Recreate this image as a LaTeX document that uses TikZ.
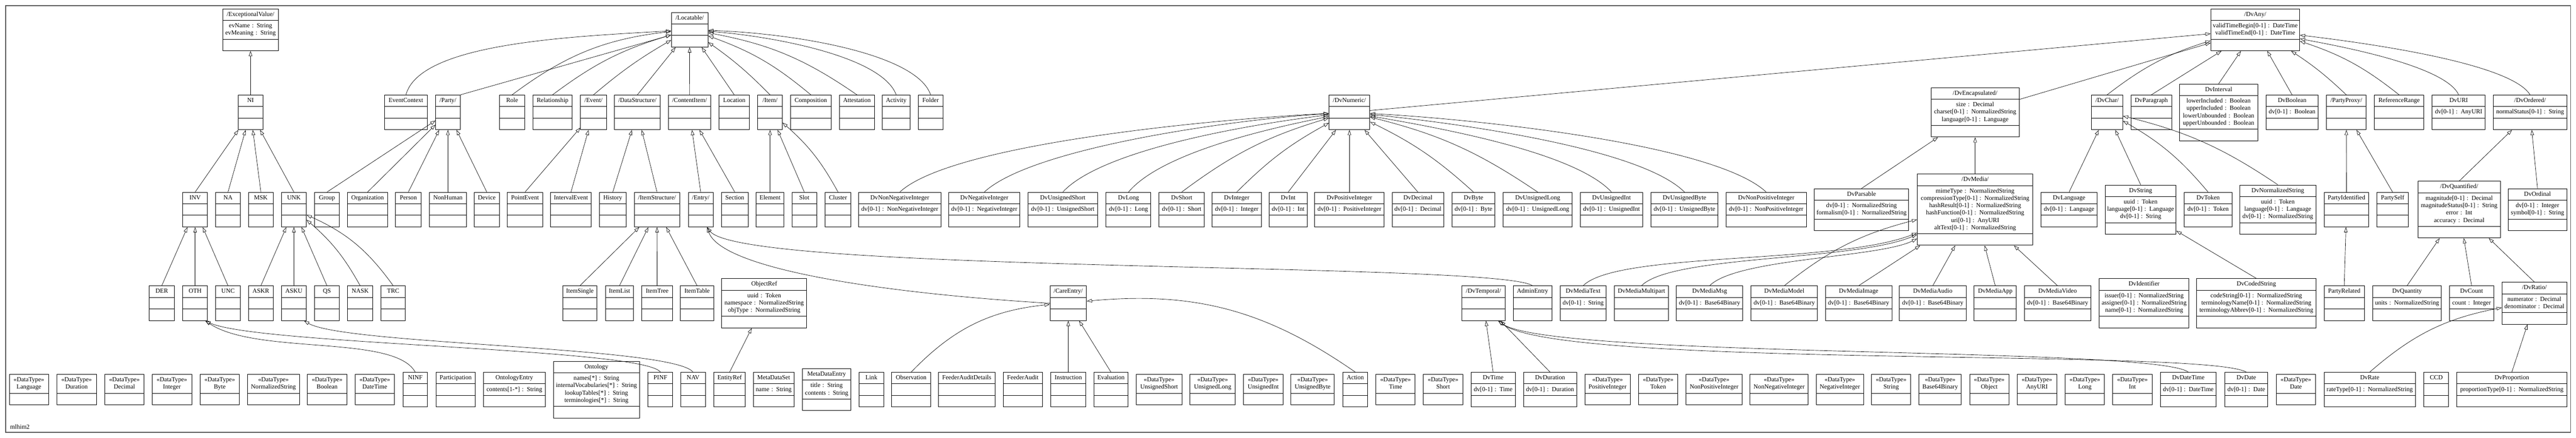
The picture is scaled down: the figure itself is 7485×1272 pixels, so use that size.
\documentclass[tikz,border=0pt]{standalone}
\usepackage{fontspec}
\setmainfont{Liberation Serif}
\usetikzlibrary{shapes.multipart,arrows.meta}
\begin{document}
\begin{tikzpicture}[x=1pt,y=1pt,
    cls/.style={rectangle split,rectangle split parts=3,draw,line width=1.5pt,inner xsep=0pt,inner ysep=5.33pt,align=center,font=\fontsize{18.2}{21.33}\selectfont},
    dtype/.style={cls,rectangle split parts=2},
    bw/.style={text width=#1pt},
    gen/.style={-{Triangle[open,length=15pt,width=10pt]},line width=1pt}]
    \useasboundingbox (0,0) rectangle (7485,1272);
    \draw[black!65,line width=2.5pt] (16,16) rectangle (7469,1256);
    \node[anchor=west,font=\fontsize{18.2}{21.33}\selectfont] (title) at (26,32) {mlhim2};
    \node[cls,bw=162] (exceptionalvalue) at (728,1185.5) {\strut/ExceptionalValue/\nodepart{two}\strut evName : String\\evMeaning : String\strut\nodepart{three}\strut};
    \node[cls,bw=106] (locatable) at (2004,1185.5) {\strut/Locatable/\nodepart{two}\strut\nodepart{three}\strut};
    \node[cls,bw=258] (dvany) at (6553,1185.5) {\strut/DvAny/\nodepart{two}\strut validTimeBegin[0-1] : DateTime\\validTimeEnd[0-1] : DateTime\strut\nodepart{three}\strut};
    \node[cls,bw=72] (ni) at (728,945.5) {\strut NI\nodepart{two}\strut\nodepart{three}\strut};
    \node[cls,bw=123] (eventcontext) at (1179.5,945.5) {\strut EventContext\nodepart{two}\strut\nodepart{three}\strut};
    \node[cls,bw=71] (party) at (1301.5,945.5) {\strut/Party/\nodepart{two}\strut\nodepart{three}\strut};
    \node[cls,bw=72] (role) at (1488,945.5) {\strut Role\nodepart{two}\strut\nodepart{three}\strut};
    \node[cls,bw=115] (relationship) at (1605.5,945.5) {\strut Relationship\nodepart{two}\strut\nodepart{three}\strut};
    \node[cls,bw=75] (event) at (1724.5,945.5) {\strut/Event/\nodepart{two}\strut\nodepart{three}\strut};
    \node[cls,bw=134] (datastructure) at (1852,945.5) {\strut/DataStructure/\nodepart{two}\strut\nodepart{three}\strut};
    \node[cls,bw=123] (contentitem) at (2003.5,945.5) {\strut/ContentItem/\nodepart{two}\strut\nodepart{three}\strut};
    \node[cls,bw=89] (location) at (2133.5,945.5) {\strut Location\nodepart{two}\strut\nodepart{three}\strut};
    \node[cls,bw=71] (item) at (2237.5,945.5) {\strut/Item/\nodepart{two}\strut\nodepart{three}\strut};
    \node[cls,bw=118] (composition) at (2356,945.5) {\strut Composition\nodepart{two}\strut\nodepart{three}\strut};
    \node[cls,bw=102] (attestation) at (2490,945.5) {\strut Attestation\nodepart{two}\strut\nodepart{three}\strut};
    \node[cls,bw=80] (activity) at (2604,945.5) {\strut Activity\nodepart{two}\strut\nodepart{three}\strut};
    \node[cls,bw=72] (folder) at (2704,945.5) {\strut Folder\nodepart{two}\strut\nodepart{three}\strut};
    \node[cls,bw=118] (dvnumeric) at (3921,945.5) {\strut/DvNumeric/\nodepart{two}\strut\nodepart{three}\strut};
    \node[cls,bw=256] (dvencapsulated) at (5739,945.5) {\strut/DvEncapsulated/\nodepart{two}\strut size : Decimal\\charset[0-1] : NormalizedString\\language[0-1] : Language\strut\nodepart{three}\strut};
    \node[cls,bw=91] (dvchar) at (6122.5,945.5) {\strut/DvChar/\nodepart{two}\strut\nodepart{three}\strut};
    \node[cls,bw=118] (dvparagraph) at (6251,945.5) {\strut DvParagraph\nodepart{two}\strut\nodepart{three}\strut};
    \node[cls,bw=227] (dvinterval) at (6446.5,945.5) {\strut DvInterval\nodepart{two}\strut lowerIncluded : Boolean\\upperIncluded : Boolean\\lowerUnbounded : Boolean\\upperUnbounded : Boolean\strut\nodepart{three}\strut};
    \node[cls,bw=152] (dvboolean) at (6660,945.5) {\strut DvBoolean\nodepart{two}\strut dv[0-1] : Boolean\nodepart{three}\strut};
    \node[cls,bw=115] (partyproxy) at (6817.5,945.5) {\strut/PartyProxy/\nodepart{two}\strut\nodepart{three}\strut};
    \node[cls,bw=144] (referencerange) at (6971,945.5) {\strut ReferenceRange\nodepart{two}\strut\nodepart{three}\strut};
    \node[cls,bw=154] (dvuri) at (7144,945.5) {\strut DvURI\nodepart{two}\strut dv[0-1] : AnyURI\nodepart{three}\strut};
    \node[cls,bw=213] (dvordered) at (7351.5,945.5) {\strut/DvOrdered/\nodepart{two}\strut normalStatus[0-1] : String\nodepart{three}\strut};
    \node[cls,bw=72] (inv) at (567,663) {\strut INV\nodepart{two}\strut\nodepart{three}\strut};
    \node[cls,bw=71] (na) at (662.5,663) {\strut NA\nodepart{two}\strut\nodepart{three}\strut};
    \node[cls,bw=72] (msk) at (758,663) {\strut MSK\nodepart{two}\strut\nodepart{three}\strut};
    \node[cls,bw=72] (unk) at (854,663) {\strut UNK\nodepart{two}\strut\nodepart{three}\strut};
    \node[cls,bw=72] (group) at (950,663) {\strut Group\nodepart{two}\strut\nodepart{three}\strut};
    \node[cls,bw=116] (organization) at (1068,663) {\strut Organization\nodepart{two}\strut\nodepart{three}\strut};
    \node[cls,bw=75] (person) at (1186.5,663) {\strut Person\nodepart{two}\strut\nodepart{three}\strut};
    \node[cls,bw=107] (nonhuman) at (1301.5,663) {\strut NonHuman\nodepart{two}\strut\nodepart{three}\strut};
    \node[cls,bw=73] (device) at (1414.5,663) {\strut Device\nodepart{two}\strut\nodepart{three}\strut};
    \node[cls,bw=103] (pointevent) at (1525.5,663) {\strut PointEvent\nodepart{two}\strut\nodepart{three}\strut};
    \node[cls,bw=118] (intervalevent) at (1659,663) {\strut IntervalEvent\nodepart{two}\strut\nodepart{three}\strut};
    \node[cls,bw=77] (history) at (1780.5,663) {\strut History\nodepart{two}\strut\nodepart{three}\strut};
    \node[cls,bw=132] (itemstructure) at (1909,663) {\strut/ItemStructure/\nodepart{two}\strut\nodepart{three}\strut};
    \node[cls,bw=72] (entry) at (2036,663) {\strut/Entry/\nodepart{two}\strut\nodepart{three}\strut};
    \node[cls,bw=78] (section) at (2135,663) {\strut Section\nodepart{two}\strut\nodepart{three}\strut};
    \node[cls,bw=81] (element) at (2237.5,663) {\strut Element\nodepart{two}\strut\nodepart{three}\strut};
    \node[cls,bw=72] (slot) at (2337,663) {\strut Slot\nodepart{two}\strut\nodepart{three}\strut};
    \node[cls,bw=76] (cluster) at (2435,663) {\strut Cluster\nodepart{two}\strut\nodepart{three}\strut};
    \node[cls,bw=239] (dvnonnegativeinteger) at (2614.5,663) {\strut DvNonNegativeInteger\nodepart{two}\strut dv[0-1] : NonNegativeInteger\nodepart{three}\strut};
    \node[cls,bw=206] (dvnegativeinteger) at (2860,663) {\strut DvNegativeInteger\nodepart{two}\strut dv[0-1] : NegativeInteger\nodepart{three}\strut};
    \node[cls,bw=202] (dvunsignedshort) at (3088,663) {\strut DvUnsignedShort\nodepart{two}\strut dv[0-1] : UnsignedShort\nodepart{three}\strut};
    \node[cls,bw=130] (dvlong) at (3279,663) {\strut DvLong\nodepart{two}\strut dv[0-1] : Long\nodepart{three}\strut};
    \node[cls,bw=131] (dvshort) at (3433.5,663) {\strut DvShort\nodepart{two}\strut dv[0-1] : Short\nodepart{three}\strut};
    \node[cls,bw=143] (dvinteger) at (3593.5,663) {\strut DvInteger\nodepart{two}\strut dv[0-1] : Integer\nodepart{three}\strut};
    \node[cls,bw=110] (dvint) at (3743,663) {\strut DvInt\nodepart{two}\strut dv[0-1] : Int\nodepart{three}\strut};
    \node[cls,bw=202] (dvpositiveinteger) at (3921,663) {\strut DvPositiveInteger\nodepart{two}\strut dv[0-1] : PositiveInteger\nodepart{three}\strut};
    \node[cls,bw=150] (dvdecimal) at (4120,663) {\strut DvDecimal\nodepart{two}\strut dv[0-1] : Decimal\nodepart{three}\strut};
    \node[cls,bw=125] (dvbyte) at (4281.5,663) {\strut DvByte\nodepart{two}\strut dv[0-1] : Byte\nodepart{three}\strut};
    \node[cls,bw=200] (dvunsignedlong) at (4468,663) {\strut DvUnsignedLong\nodepart{two}\strut dv[0-1] : UnsignedLong\nodepart{three}\strut};
    \node[cls,bw=181] (dvunsignedint) at (4682.5,663) {\strut DvUnsignedInt\nodepart{two}\strut dv[0-1] : UnsignedInt\nodepart{three}\strut};
    \node[cls,bw=195] (dvunsignedbyte) at (4894.5,663) {\strut DvUnsignedByte\nodepart{two}\strut dv[0-1] : UnsignedByte\nodepart{three}\strut};
    \node[cls,bw=234] (dvnonpositiveinteger) at (5132,663) {\strut DvNonPositiveInteger\nodepart{two}\strut dv[0-1] : NonPositiveInteger\nodepart{three}\strut};
    \node[cls,bw=274] (dvparsable) at (5409,663) {\strut DvParsable\nodepart{two}\strut dv[0-1] : NormalizedString\\formalism[0-1] : NormalizedString\strut\nodepart{three}\strut};
    \node[cls,bw=336] (dvmedia) at (5739,663) {\strut/DvMedia/\nodepart{two}\strut mimeType : NormalizedString\\compressionType[0-1] : NormalizedString\\hashResult[0-1] : NormalizedString\\hashFunction[0-1] : NormalizedString\\uri[0-1] : AnyURI\\altText[0-1] : NormalizedString\strut\nodepart{three}\strut};
    \node[cls,bw=162] (dvlanguage) at (6012,663) {\strut DvLanguage\nodepart{two}\strut dv[0-1] : Language\nodepart{three}\strut};
    \node[cls,bw=206] (dvstring) at (6220,663) {\strut DvString\nodepart{two}\strut uuid : Token\\language[0-1] : Language\\dv[0-1] : String\strut\nodepart{three}\strut};
    \node[cls,bw=138] (dvtoken) at (6416,663) {\strut DvToken\nodepart{two}\strut dv[0-1] : Token\nodepart{three}\strut};
    \node[cls,bw=221] (dvnormalizedstring) at (6618.5,663) {\strut DvNormalizedString\nodepart{two}\strut uuid : Token\\language[0-1] : Language\\dv[0-1] : NormalizedString\strut\nodepart{three}\strut};
    \node[cls,bw=130] (partyidentified) at (6818,663) {\strut PartyIdentified\nodepart{two}\strut\nodepart{three}\strut};
    \node[cls,bw=90] (partyself) at (6952,663) {\strut PartySelf\nodepart{two}\strut\nodepart{three}\strut};
    \node[cls,bw=239] (dvquantified) at (7145.5,663) {\strut/DvQuantified/\nodepart{two}\strut magnitude[0-1] : Decimal\\magnitudeStatus[0-1] : String\\error : Int\\accuracy : Decimal\strut\nodepart{three}\strut};
    \node[cls,bw=170] (dvordinal) at (7373,663) {\strut DvOrdinal\nodepart{two}\strut dv[0-1] : Integer\\symbol[0-1] : String\strut\nodepart{three}\strut};
    \node[cls,bw=72] (der) at (470,391) {\strut DER\nodepart{two}\strut\nodepart{three}\strut};
    \node[cls,bw=72] (oth) at (567,391) {\strut OTH\nodepart{two}\strut\nodepart{three}\strut};
    \node[cls,bw=71] (unc) at (662.5,391) {\strut UNC\nodepart{two}\strut\nodepart{three}\strut};
    \node[cls,bw=72] (askr) at (758,391) {\strut ASKR\nodepart{two}\strut\nodepart{three}\strut};
    \node[cls,bw=72] (asku) at (854,391) {\strut ASKU\nodepart{two}\strut\nodepart{three}\strut};
    \node[cls,bw=72] (qs) at (950,391) {\strut QS\nodepart{two}\strut\nodepart{three}\strut};
    \node[cls,bw=73] (nask) at (1046.5,391) {\strut NASK\nodepart{two}\strut\nodepart{three}\strut};
    \node[cls,bw=71] (trc) at (1142.5,391) {\strut TRC\nodepart{two}\strut\nodepart{three}\strut};
    \node[cls,bw=100] (itemsingle) at (1685,391) {\strut ItemSingle\nodepart{two}\strut\nodepart{three}\strut};
    \node[cls,bw=82] (itemlist) at (1800,391) {\strut ItemList\nodepart{two}\strut\nodepart{three}\strut};
    \node[cls,bw=89] (itemtree) at (1909.5,391) {\strut ItemTree\nodepart{two}\strut\nodepart{three}\strut};
    \node[cls,bw=97] (itemtable) at (2025.5,391) {\strut ItemTable\nodepart{two}\strut\nodepart{three}\strut};
    \node[cls,bw=247] (objectref) at (2220.5,391) {\strut ObjectRef\nodepart{two}\strut uuid : Token\\namespace : NormalizedString\\objType : NormalizedString\strut\nodepart{three}\strut};
    \node[cls,bw=106] (careentry) at (3104,391) {\strut/CareEntry/\nodepart{two}\strut\nodepart{three}\strut};
    \node[cls,bw=127] (dvtemporal) at (4310.5,391) {\strut/DvTemporal/\nodepart{two}\strut\nodepart{three}\strut};
    \node[cls,bw=112] (adminentry) at (4453,391) {\strut AdminEntry\nodepart{two}\strut\nodepart{three}\strut};
    \node[cls,bw=134] (dvmediatext) at (4600,391) {\strut DvMediaText\nodepart{two}\strut dv[0-1] : String\nodepart{three}\strut};
    \node[cls,bw=157] (dvmediamultipart) at (4769.5,391) {\strut DvMediaMultipart\nodepart{two}\strut\nodepart{three}\strut};
    \node[cls,bw=193] (dvmediamsg) at (4967.5,391) {\strut DvMediaMsg\nodepart{two}\strut dv[0-1] : Base64Binary\nodepart{three}\strut};
    \node[cls,bw=193] (dvmediamodel) at (5184.5,391) {\strut DvMediaModel\nodepart{two}\strut dv[0-1] : Base64Binary\nodepart{three}\strut};
    \node[cls,bw=193] (dvmediaimage) at (5400.5,391) {\strut DvMediaImage\nodepart{two}\strut dv[0-1] : Base64Binary\nodepart{three}\strut};
    \node[cls,bw=194] (dvmediaaudio) at (5616,391) {\strut DvMediaAudio\nodepart{two}\strut dv[0-1] : Base64Binary\nodepart{three}\strut};
    \node[cls,bw=123] (dvmediaapp) at (5797.5,391) {\strut DvMediaApp\nodepart{two}\strut\nodepart{three}\strut};
    \node[cls,bw=193] (dvmediavideo) at (5978.5,391) {\strut DvMediaVideo\nodepart{two}\strut dv[0-1] : Base64Binary\nodepart{three}\strut};
    \node[cls,bw=260] (dvidentifier) at (6230,391) {\strut DvIdentifier\nodepart{two}\strut issuer[0-1] : NormalizedString\\assigner[0-1] : NormalizedString\\name[0-1] : NormalizedString\strut\nodepart{three}\strut};
    \node[cls,bw=346] (dvcodedstring) at (6556,391) {\strut DvCodedString\nodepart{two}\strut codeString[0-1] : NormalizedString\\terminologyName[0-1] : NormalizedString\\terminologyAbbrev[0-1] : NormalizedString\strut\nodepart{three}\strut};
    \node[cls,bw=117] (partyrelated) at (6811.5,391) {\strut PartyRelated\nodepart{two}\strut\nodepart{three}\strut};
    \node[cls,bw=200] (dvquantity) at (6994,391) {\strut DvQuantity\nodepart{two}\strut units : NormalizedString\nodepart{three}\strut};
    \node[cls,bw=129] (dvcount) at (7181.5,391) {\strut DvCount\nodepart{two}\strut count : Integer\nodepart{three}\strut};
    \node[cls,bw=188] (dvratio) at (7364,391) {\strut/DvRatio/\nodepart{two}\strut numerator : Decimal\\denominator : Decimal\strut\nodepart{three}\strut};
    \node[dtype,bw=114] (tlanguage) at (84,140) {\strut«DataType»\\Language\strut\nodepart{two}\strut};
    \node[dtype,bw=115] (tduration) at (222.5,140) {\strut«DataType»\\Duration\strut\nodepart{two}\strut};
    \node[dtype,bw=115] (tdecimal) at (361.5,140) {\strut«DataType»\\Decimal\strut\nodepart{two}\strut};
    \node[dtype,bw=115] (tinteger) at (499.5,140) {\strut«DataType»\\Integer\strut\nodepart{two}\strut};
    \node[dtype,bw=115] (tbyte) at (638.5,140) {\strut«DataType»\\Byte\strut\nodepart{two}\strut};
    \node[dtype,bw=151] (tnormalizedstring) at (794.5,140) {\strut«DataType»\\NormalizedString\strut\nodepart{two}\strut};
    \node[dtype,bw=115] (tboolean) at (950.5,140) {\strut«DataType»\\Boolean\strut\nodepart{two}\strut};
    \node[dtype,bw=114] (tdatetime) at (1089,140) {\strut«DataType»\\DateTime\strut\nodepart{two}\strut};
    \node[cls,bw=71] (ninf) at (1206.5,140) {\strut NINF\nodepart{two}\strut\nodepart{three}\strut};
    \node[cls,bw=114] (participation) at (1324,140) {\strut Participation\nodepart{two}\strut\nodepart{three}\strut};
    \node[cls,bw=179] (ontologyentry) at (1494.5,140) {\strut OntologyEntry\nodepart{two}\strut contents[1-*] : String\nodepart{three}\strut};
    \node[cls,bw=250] (ontology) at (1733,140) {\strut Ontology\nodepart{two}\strut names[*] : String\\internalVocabularies[*] : String\\lookupTables[*] : String\\terminologies[*] : String\strut\nodepart{three}\strut};
    \node[cls,bw=72] (pinf) at (1919,140) {\strut PINF\nodepart{two}\strut\nodepart{three}\strut};
    \node[cls,bw=72] (nav) at (2014,140) {\strut NAV\nodepart{two}\strut\nodepart{three}\strut};
    \node[cls,bw=92] (entityref) at (2120,140) {\strut EntityRef\nodepart{two}\strut\nodepart{three}\strut};
    \node[cls,bw=118] (metadataset) at (2248,140) {\strut MetaDataSet\nodepart{two}\strut name : String\nodepart{three}\strut};
    \node[cls,bw=142] (metadataentry) at (2402,140) {\strut MetaDataEntry\nodepart{two}\strut title : String\\contents : String\strut\nodepart{three}\strut};
    \node[cls,bw=72] (link) at (2532,140) {\strut Link\nodepart{two}\strut\nodepart{three}\strut};
    \node[cls,bw=113] (observation) at (2647.5,140) {\strut Observation\nodepart{two}\strut\nodepart{three}\strut};
    \node[cls,bw=164] (feederauditdetails) at (2809,140) {\strut FeederAuditDetails\nodepart{two}\strut\nodepart{three}\strut};
    \node[cls,bw=114] (feederaudit) at (2972,140) {\strut FeederAudit\nodepart{two}\strut\nodepart{three}\strut};
    \node[cls,bw=102] (instruction) at (3104,140) {\strut Instruction\nodepart{two}\strut\nodepart{three}\strut};
    \node[cls,bw=98] (evaluation) at (3228,140) {\strut Evaluation\nodepart{two}\strut\nodepart{three}\strut};
    \node[dtype,bw=134] (tunsignedshort) at (3368,140) {\strut«DataType»\\UnsignedShort\strut\nodepart{two}\strut};
    \node[dtype,bw=131] (tunsignedlong) at (3523.5,140) {\strut«DataType»\\UnsignedLong\strut\nodepart{two}\strut};
    \node[dtype,bw=115] (tunsignedint) at (3670.5,140) {\strut«DataType»\\UnsignedInt\strut\nodepart{two}\strut};
    \node[dtype,bw=126] (tunsignedbyte) at (3814,140) {\strut«DataType»\\UnsignedByte\strut\nodepart{two}\strut};
    \node[cls,bw=72] (action) at (3938,140) {\strut Action\nodepart{two}\strut\nodepart{three}\strut};
    \node[dtype,bw=114] (ttime) at (4055,140) {\strut«DataType»\\Time\strut\nodepart{two}\strut};
    \node[dtype,bw=114] (tshort) at (4193,140) {\strut«DataType»\\Short\strut\nodepart{two}\strut};
    \node[cls,bw=129] (dvtime) at (4338.5,140) {\strut DvTime\nodepart{two}\strut dv[0-1] : Time\nodepart{three}\strut};
    \node[cls,bw=154] (dvduration) at (4504,140) {\strut DvDuration\nodepart{two}\strut dv[0-1] : Duration\nodepart{three}\strut};
    \node[dtype,bw=132] (tpositiveinteger) at (4671,140) {\strut«DataType»\\PositiveInteger\strut\nodepart{two}\strut};
    \node[dtype,bw=114] (ttoken) at (4818,140) {\strut«DataType»\\Token\strut\nodepart{two}\strut};
    \node[dtype,bw=163] (tnonpositiveinteger) at (4980.5,140) {\strut«DataType»\\NonPositiveInteger\strut\nodepart{two}\strut};
    \node[dtype,bw=169] (tnonnegativeinteger) at (5169.5,140) {\strut«DataType»\\NonNegativeInteger\strut\nodepart{two}\strut};
    \node[dtype,bw=138] (tnegativeinteger) at (5346,140) {\strut«DataType»\\NegativeInteger\strut\nodepart{two}\strut};
    \node[dtype,bw=114] (tstring) at (5495,140) {\strut«DataType»\\String\strut\nodepart{two}\strut};
    \node[dtype,bw=123] (tbase64binary) at (5637.5,140) {\strut«DataType»\\Base64Binary\strut\nodepart{two}\strut};
    \node[dtype,bw=114] (tobject) at (5780,140) {\strut«DataType»\\Object\strut\nodepart{two}\strut};
    \node[dtype,bw=115] (tanyuri) at (5918.5,140) {\strut«DataType»\\AnyURI\strut\nodepart{two}\strut};
    \node[dtype,bw=114] (tlong) at (6058,140) {\strut«DataType»\\Long\strut\nodepart{two}\strut};
    \node[dtype,bw=114] (tint) at (6196,140) {\strut«DataType»\\Int\strut\nodepart{two}\strut};
    \node[cls,bw=163] (dvdatetime) at (6358.5,140) {\strut DvDateTime\nodepart{two}\strut dv[0-1] : DateTime\nodepart{three}\strut};
    \node[cls,bw=124] (dvdate) at (6527,140) {\strut DvDate\nodepart{two}\strut dv[0-1] : Date\nodepart{three}\strut};
    \node[dtype,bw=114] (tdate) at (6671,140) {\strut«DataType»\\Date\strut\nodepart{two}\strut};
    \node[cls,bw=265] (dvrate) at (6885.5,140) {\strut DvRate\nodepart{two}\strut rateType[0-1] : NormalizedString\nodepart{three}\strut};
    \node[cls,bw=72] (ccd) at (7079,140) {\strut CCD\nodepart{two}\strut\nodepart{three}\strut};
    \node[cls,bw=319] (dvproportion) at (7298.5,140) {\strut DvProportion\nodepart{two}\strut proportionType[0-1] : NormalizedString\nodepart{three}\strut};
    \draw[gen] (ni.north) -- (exceptionalvalue);
    \draw[gen] (inv.north) -- (ni);
    \draw[gen] (na.north) -- (ni);
    \draw[gen] (msk.north) -- (ni);
    \draw[gen] (unk.north) -- (ni);
    \draw[gen] (der.north) -- (inv);
    \draw[gen] (oth.north) -- (inv);
    \draw[gen] (unc.north) -- (inv);
    \draw[gen] (askr.north) -- (unk);
    \draw[gen] (asku.north) -- (unk);
    \draw[gen] (qs.north) -- (unk);
    \draw[gen] (nask.north) to[bend right=10] (unk);
    \draw[gen] (trc.north) to[bend right=15] (unk);
    \draw[gen] (ninf.north) .. controls +(-60,110) and +(150,-100) .. (oth.-60);
    \draw[gen] (pinf.north) .. controls +(-50,70) and +(150,-70) .. (oth.-60);
    \draw[gen] (nav.north) .. controls +(-60,75) and +(120,-70) .. (asku.-60);
    \draw[gen] (eventcontext.north) .. controls +(40,150) and +(-350,-20) .. (locatable);
    \draw[gen] (party.north east) -- (locatable);
    \draw[gen] (role.north) to[bend left=15] (locatable);
    \draw[gen] (relationship.north) to[bend left=10] (locatable);
    \draw[gen] (event.north) to[bend left=5] (locatable);
    \draw[gen] (datastructure.north) -- (locatable);
    \draw[gen] (contentitem.north) -- (locatable);
    \draw[gen] (location.north) -- (locatable);
    \draw[gen] (item.north) to[bend right=5] (locatable);
    \draw[gen] (composition.north) to[bend right=10] (locatable);
    \draw[gen] (attestation.north) to[bend right=12] (locatable);
    \draw[gen] (activity.north) .. controls +(-40,110) and +(250,-20) .. (locatable);
    \draw[gen] (folder.north) .. controls +(-40,120) and +(300,-10) .. (locatable);
    \draw[gen] (group.north) -- (party);
    \draw[gen] (organization.north) -- (party);
    \draw[gen] (person.north) -- (party);
    \draw[gen] (nonhuman.north) -- (party);
    \draw[gen] (device.north) -- (party);
    \draw[gen] (pointevent.north) -- (event);
    \draw[gen] (intervalevent.north) -- (event);
    \draw[gen] (history.north) -- (datastructure);
    \draw[gen] (itemstructure.north) -- (datastructure);
    \draw[gen] (entry.north) -- (contentitem);
    \draw[gen] (section.north) -- (contentitem);
    \draw[gen] (element.north) -- (item);
    \draw[gen] (slot.north) -- (item);
    \draw[gen] (cluster.north) to[bend right=10] (item);
    \draw[gen] (itemsingle.north) -- (itemstructure);
    \draw[gen] (itemlist.north) -- (itemstructure);
    \draw[gen] (itemtree.north) -- (itemstructure);
    \draw[gen] (itemtable.north) -- (itemstructure);
    \draw[gen] (entityref.north) -- (objectref);
    \draw[gen] (careentry.west) .. controls +(-500,30) and +(40,-120) .. (entry.-70);
    \draw[gen] (adminentry.north) .. controls +(-100,70) and +(100,-135) .. (entry.-70);
    \draw[gen] (observation.north) to[bend left=20] (careentry);
    \draw[gen] (instruction.north) -- (careentry);
    \draw[gen] (evaluation.north) -- (careentry);
    \draw[gen] (action.north) to[bend right=20] (careentry);
    \draw[gen] (dvnumeric) -- (dvany);
    \draw[gen] (dvencapsulated) -- (dvany);
    \draw[gen] (dvchar.north) to[bend left=10] (dvany);
    \draw[gen] (dvparagraph.north) -- (dvany);
    \draw[gen] (dvinterval.north) -- (dvany);
    \draw[gen] (dvboolean.north) -- (dvany);
    \draw[gen] (partyproxy.north) to[bend right=5] (dvany);
    \draw[gen] (referencerange.north) to[bend right=10] (dvany);
    \draw[gen] (dvuri.north) .. controls +(-40,90) and +(200,-40) .. (dvany);
    \draw[gen] (dvordered.north) .. controls +(-60,100) and +(250,-30) .. (dvany);
    \draw[gen] (dvnonnegativeinteger.north) .. controls +(150,140) and +(-400,-20) .. (dvnumeric);
    \draw[gen] (dvnegativeinteger.north) .. controls +(140,130) and +(-330,-20) .. (dvnumeric);
    \draw[gen] (dvunsignedshort.north) .. controls +(120,130) and +(-250,-30) .. (dvnumeric);
    \draw[gen] (dvlong.north) .. controls +(100,120) and +(-200,-40) .. (dvnumeric);
    \draw[gen] (dvshort.north) to[bend left=10] (dvnumeric);
    \draw[gen] (dvinteger.north) to[bend left=8] (dvnumeric);
    \draw[gen] (dvint.north) -- (dvnumeric);
    \draw[gen] (dvpositiveinteger.north) -- (dvnumeric);
    \draw[gen] (dvdecimal.north) -- (dvnumeric);
    \draw[gen] (dvbyte.north) to[bend right=8] (dvnumeric);
    \draw[gen] (dvunsignedlong.north) to[bend right=10] (dvnumeric);
    \draw[gen] (dvunsignedint.north) .. controls +(-110,120) and +(230,-40) .. (dvnumeric);
    \draw[gen] (dvunsignedbyte.north) .. controls +(-130,130) and +(300,-30) .. (dvnumeric);
    \draw[gen] (dvnonpositiveinteger.north) .. controls +(-150,140) and +(370,-20) .. (dvnumeric);
    \draw[gen] (dvparsable.north) -- (dvencapsulated);
    \draw[gen] (dvmedia.north) -- (dvencapsulated);
    \draw[gen] (dvmediatext.north) .. controls +(100,100) and +(-400,-160) .. (dvmedia);
    \draw[gen] (dvmediamultipart.north) .. controls +(90,90) and +(-350,-150) .. (dvmedia);
    \draw[gen] (dvmediamsg.north) .. controls +(80,80) and +(-280,-140) .. (dvmedia);
    \draw[gen] (dvmediamodel.north) to[bend left=12] (dvmedia);
    \draw[gen] (dvmediaimage.north) -- (dvmedia);
    \draw[gen] (dvmediaaudio.north) -- (dvmedia);
    \draw[gen] (dvmediaapp.north) -- (dvmedia);
    \draw[gen] (dvmediavideo.north) -- (dvmedia);
    \draw[gen] (dvtime.north) -- (dvtemporal);
    \draw[gen] (dvduration.north) -- (dvtemporal);
    \draw[gen] (dvdatetime.north) .. controls +(-100,75) and +(150,-110) .. (dvtemporal.-50);
    \draw[gen] (dvdate.north) .. controls +(-120,70) and +(180,-140) .. (dvtemporal.-50);
    \draw[gen] (dvlanguage.north) -- (dvchar);
    \draw[gen] (dvstring.north) -- (dvchar);
    \draw[gen] (dvtoken.north) to[bend right=10] (dvchar);
    \draw[gen] (dvnormalizedstring.north) to[bend right=10] (dvchar);
    \draw[gen] (dvcodedstring.north) -- (dvstring);
    \draw[gen] (partyidentified.north) -- (partyproxy);
    \draw[gen] (partyself.north) -- (partyproxy);
    \draw[gen] (partyrelated.north) -- (partyidentified);
    \draw[gen] (dvquantified.north) -- (dvordered);
    \draw[gen] (dvordinal.north) -- (dvordered);
    \draw[gen] (dvquantity.north) -- (dvquantified);
    \draw[gen] (dvcount.north) -- (dvquantified);
    \draw[gen] (dvratio.north) -- (dvquantified);
    \draw[gen] (dvrate.north) to[bend left=15] (dvratio);
    \draw[gen] (dvproportion.north) -- (dvratio);
\end{tikzpicture}
\end{document}
